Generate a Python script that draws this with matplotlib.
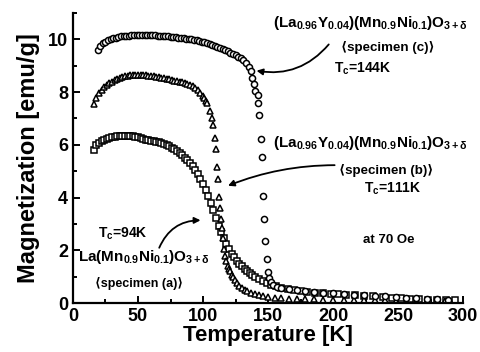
import matplotlib
matplotlib.use("Agg")
import matplotlib.pyplot as plt
from matplotlib.ticker import MultipleLocator

plt.rcParams['font.family'] = ['Liberation Sans', 'DejaVu Sans', 'Noto Sans CJK JP']
plt.rcParams['font.weight'] = 'bold'
plt.rcParams['mathtext.fontset'] = 'custom'
plt.rcParams['mathtext.rm'] = 'Liberation Sans:bold'
plt.rcParams['mathtext.it'] = 'Liberation Sans:bold'
plt.rcParams['mathtext.bf'] = 'Liberation Sans:bold'
plt.rcParams['mathtext.default'] = 'rm'

# specimen (a): La(Mn0.9Ni0.1)O3+d, squares
temp_a = [16, 18, 20, 22, 24, 26, 28, 30, 32, 34, 36, 38, 40, 42, 44, 46, 48, 50,
          52, 54, 56, 58, 60, 62, 64, 66, 68, 70, 72, 74, 76, 78, 80, 82, 84, 86,
          88, 90, 92, 94, 96, 98, 100, 102, 104, 106, 108, 110, 112, 114, 116, 118,
          120, 122, 124, 126, 128, 130, 132, 134, 136, 138, 140, 143, 146, 149, 152,
          156, 160, 165, 170, 175, 180, 186, 192, 198, 204, 210, 217, 224, 231, 238,
          245, 252, 259, 266, 273, 280, 287, 294]
mag_a = [5.80, 5.98, 6.08, 6.15, 6.20, 6.24, 6.27, 6.29, 6.31, 6.32, 6.33, 6.34, 6.35,
         6.35, 6.34, 6.32, 6.30, 6.28, 6.25, 6.22, 6.20, 6.18, 6.16, 6.14, 6.12, 6.10,
         6.06, 6.02, 5.98, 5.94, 5.89, 5.83, 5.76, 5.69, 5.61, 5.52, 5.42, 5.31, 5.18,
         5.04, 4.88, 4.70, 4.50, 4.29, 4.05, 3.80, 3.52, 3.22, 2.94, 2.68, 2.45, 2.24,
         2.05, 1.88, 1.73, 1.60, 1.49, 1.39, 1.30, 1.22, 1.14, 1.07, 1.00, 0.91, 0.83,
         0.76, 0.70, 0.63, 0.58, 0.53, 0.49, 0.46, 0.43, 0.40, 0.37, 0.35, 0.33, 0.31,
         0.29, 0.27, 0.25, 0.23, 0.21, 0.19, 0.17, 0.15, 0.13, 0.12, 0.11, 0.10]

# specimen (b): triangles
temp_b = [16, 18, 20, 22, 24, 26, 28, 30, 32, 34, 36, 38, 40, 42, 44, 46, 48, 50,
          52, 54, 56, 58, 60, 62, 64, 66, 68, 70, 72, 74, 76, 78, 80, 82, 84, 86,
          88, 90, 92, 94, 96, 98, 100, 101, 102, 103.3, 105.6, 107.2, 108, 109.5,
          110.3, 111, 111.8, 112.6, 113.3, 114, 114.8, 115.6, 116.4, 117.2, 118, 119,
          120, 121, 122, 123, 124.5, 126, 128, 130, 132, 134, 137, 140, 143, 146, 150,
          155, 160, 166, 172, 178, 185, 192, 200, 208, 216, 224, 232, 240, 248, 256,
          264, 272, 280, 286, 290]
mag_b = [7.55, 7.78, 7.95, 8.08, 8.18, 8.27, 8.34, 8.40, 8.45, 8.50, 8.54, 8.57, 8.60,
         8.62, 8.64, 8.65, 8.66, 8.66, 8.66, 8.65, 8.64, 8.63, 8.62, 8.60, 8.58, 8.56,
         8.54, 8.52, 8.50, 8.48, 8.46, 8.44, 8.42, 8.40, 8.37, 8.34, 8.31, 8.27, 8.22,
         8.16, 8.08, 7.98, 7.86, 7.78, 7.68, 7.57, 7.30, 7.00, 6.74, 6.25, 5.83, 5.15,
         4.70, 4.03, 3.60, 3.20, 2.85, 2.45, 2.05, 1.80, 1.60, 1.42, 1.30, 1.20, 1.08,
         0.98, 0.86, 0.76, 0.65, 0.57, 0.50, 0.45, 0.39, 0.33, 0.29, 0.26, 0.23, 0.21,
         0.19, 0.17, 0.16, 0.15, 0.14, 0.13, 0.12, 0.12, 0.11, 0.11, 0.10, 0.10, 0.09,
         0.09, 0.09, 0.08, 0.08, 0.08, 0.08]

# specimen (c): circles
temp_c = [19.5, 21, 23, 25, 27, 29, 31, 33, 35, 37, 39, 41, 43, 45, 47, 49, 51, 53,
          55, 57, 59, 61, 63, 65, 67, 69, 71, 73, 75, 77, 79, 81, 83, 85, 87, 89, 91,
          93, 95, 97, 99, 101, 103, 105, 107, 109, 111, 113, 115, 117, 119, 121, 123,
          125, 127, 129, 131, 133, 135, 136.5, 138, 139, 140, 142.3, 142.6,
          143.2, 144.5, 145, 146.3, 146.7, 147.5, 148.8, 149.9, 150.6, 152, 154, 157,
          160, 166, 172, 178, 185, 192, 200, 208, 216, 224, 232, 240, 248, 256, 264,
          272, 280, 288]
mag_c = [9.58, 9.75, 9.85, 9.92, 9.97, 10.01, 10.04, 10.07, 10.09, 10.11, 10.12, 10.13,
         10.14, 10.15, 10.15, 10.16, 10.16, 10.16, 10.16, 10.16, 10.16, 10.15, 10.15,
         10.14, 10.14, 10.13, 10.12, 10.11, 10.10, 10.09, 10.08, 10.07, 10.06, 10.05,
         10.03, 10.02, 10.00, 9.98, 9.96, 9.94, 9.92, 9.89, 9.86, 9.83, 9.80, 9.76,
         9.72, 9.68, 9.64, 9.60, 9.55, 9.50, 9.45, 9.40, 9.34, 9.28, 9.20, 9.10, 8.95,
         8.80, 8.55, 8.30, 8.05, 7.88, 7.59, 7.15, 6.24, 5.54, 4.05, 3.17, 2.35, 1.69,
         1.19, 0.94, 0.80, 0.70, 0.62, 0.58, 0.54, 0.50, 0.46, 0.43, 0.40, 0.37, 0.34,
         0.31, 0.29, 0.27, 0.25, 0.23, 0.21, 0.19, 0.17, 0.15, 0.13]

fig = plt.figure(figsize=(4.8, 3.52), dpi=100)
ax = fig.add_axes([0.152, 0.139, 0.813, 0.824])

mk = dict(linestyle='none', markerfacecolor='white', markeredgecolor='black',
          markersize=4.4, markeredgewidth=1.1)
ax.plot(temp_a, mag_a, marker='s', **mk)
ax.plot(temp_b, mag_b, marker='^', **mk)
ax.plot(temp_c, mag_c, marker='o', **mk)

ax.set_xlim(0, 300)
ax.set_ylim(0, 11)
ax.xaxis.set_major_locator(MultipleLocator(50))
ax.xaxis.set_minor_locator(MultipleLocator(25))
ax.yaxis.set_major_locator(MultipleLocator(2))
ax.yaxis.set_minor_locator(MultipleLocator(1))
ax.spines['top'].set_visible(False)
ax.spines['right'].set_visible(False)
for s in ('left', 'bottom'):
    ax.spines[s].set_linewidth(1.6)
ax.tick_params(which='both', direction='in', width=1.4, labelsize=13)
ax.tick_params(which='major', length=5)
ax.tick_params(which='minor', length=3)
ax.set_xlabel('Temperature [K]', fontsize=16, fontweight='bold', labelpad=0)
ax.set_ylabel('Magnetization [emu/g]', fontsize=17, fontweight='bold', labelpad=6)

formula = r'(La$_{0.96}$Y$_{0.04}$)(Mn$_{0.9}$Ni$_{0.1}$)O$_{3+\delta}$'
ax.text(154, 10.64, formula, fontsize=11, ha='left', va='center')
ax.text(242, 9.71, '⟨specimen (c)⟩', fontsize=9.6, ha='center', va='center')
ax.text(200.5, 8.9, r'T$_c$=144K', fontsize=10, ha='left', va='center')

ax.text(154, 6.06, formula, fontsize=11, ha='left', va='center')
ax.text(241, 5.04, '⟨specimen (b)⟩', fontsize=9.6, ha='center', va='center')
ax.text(246, 4.34, r'T$_c$=111K', fontsize=10, ha='center', va='center')

ax.text(242.5, 2.39, 'at 70 Oe', fontsize=9.5, ha='center', va='center')

ax.text(38.6, 2.64, r'T$_c$=94K', fontsize=10, ha='center', va='center')
ax.text(3.9, 1.74, r'La(Mn$_{0.9}$Ni$_{0.1}$)O$_{3+\delta}$', fontsize=11, ha='left', va='center')
ax.text(51, 0.76, '⟨specimen (a)⟩', fontsize=9, ha='center', va='center')

arrow = dict(arrowstyle='-|>', color='black', lw=1.3, mutation_scale=9)
ax.annotate('', xy=(139, 8.83), xytext=(198, 9.89),
            arrowprops=dict(connectionstyle='arc3,rad=-0.3', **arrow))
ax.annotate('', xy=(117.2, 4.41), xytext=(203.3, 5.23),
            arrowprops=dict(connectionstyle='arc3,rad=0.1', **arrow))
ax.annotate('', xy=(100.2, 3.14), xytext=(65.5, 2.0),
            arrowprops=dict(connectionstyle='arc3,rad=-0.35', **arrow))

fig.savefig('out.png', dpi=100)
